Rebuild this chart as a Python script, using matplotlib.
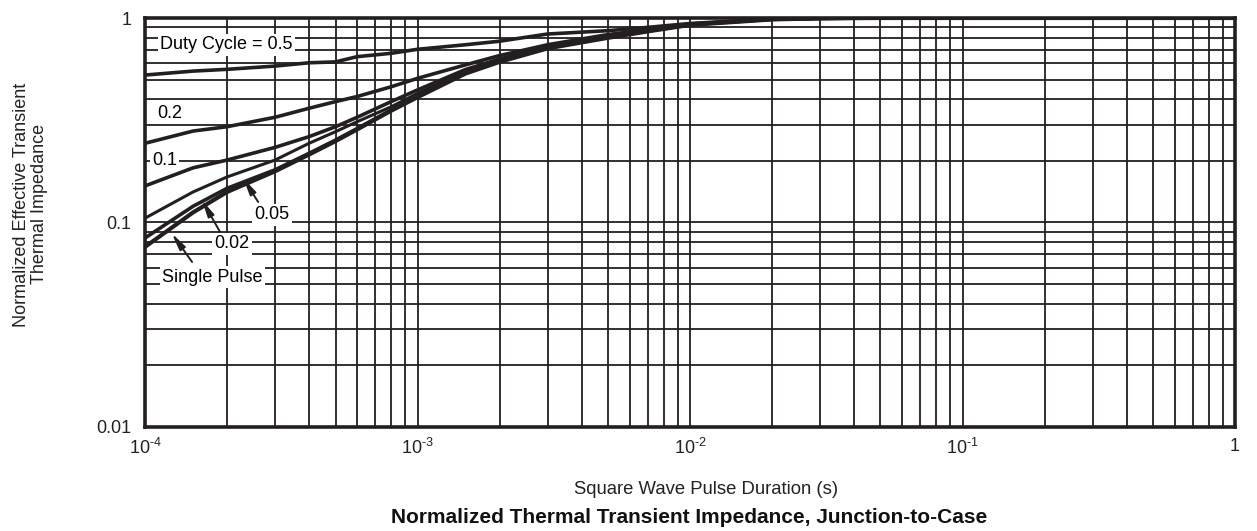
import numpy as np
import matplotlib.pyplot as plt
from matplotlib.ticker import FixedLocator, LogLocator, NullFormatter

plt.rcParams['font.family'] = ['Liberation Sans', 'DejaVu Sans']
plt.rcParams['mathtext.fontset'] = 'custom'
plt.rcParams['mathtext.rm'] = 'Liberation Sans'
plt.rcParams['mathtext.it'] = 'Liberation Sans'

# Pulse duration (s)
t = [1e-4, 1.5e-4, 2e-4, 3e-4, 4e-4, 5e-4, 6e-4, 8e-4, 1e-3, 1.5e-3,
     2e-3, 3e-3, 5e-3, 7e-3, 1e-2, 2e-2, 3e-2, 5e-2, 1e-1, 1.0]

# Normalized Zth for each duty cycle
z_05 = [0.526, 0.55, 0.561, 0.582, 0.604, 0.61, 0.647, 0.672, 0.703, 0.74,
        0.77, 0.835, 0.867, 0.90, 0.94, 0.99, 0.997, 1.0, 1.0, 1.0]
z_02 = [0.244, 0.28, 0.294, 0.327, 0.362, 0.39, 0.413, 0.461, 0.507, 0.59,
        0.655, 0.74, 0.83, 0.876, 0.935, 0.988, 0.996, 1.0, 1.0, 1.0]
z_01 = [0.151, 0.185, 0.202, 0.233, 0.263, 0.294, 0.327, 0.39, 0.445, 0.56,
        0.63, 0.73, 0.82, 0.872, 0.933, 0.987, 0.996, 1.0, 1.0, 1.0]
z_005 = [0.105, 0.141, 0.167, 0.202, 0.244, 0.278, 0.311, 0.368, 0.428, 0.55,
         0.62, 0.72, 0.812, 0.868, 0.93, 0.986, 0.996, 1.0, 1.0, 1.0]
z_002 = [0.084, 0.12, 0.147, 0.181, 0.218, 0.253, 0.288, 0.355, 0.412, 0.54,
         0.615, 0.715, 0.806, 0.864, 0.928, 0.985, 0.996, 1.0, 1.0, 1.0]
z_single = [0.076, 0.112, 0.141, 0.178, 0.215, 0.25, 0.285, 0.352, 0.41, 0.535,
            0.61, 0.71, 0.80, 0.86, 0.925, 0.984, 0.996, 1.0, 1.0, 1.0]

x_ticks = [1e-4, 1e-3, 1e-2, 1e-1, 1]
x_labels = [r'$\mathregular{10^{\text{-}4}}$', r'$\mathregular{10^{\text{-}3}}$',
            r'$\mathregular{10^{\text{-}2}}$', r'$\mathregular{10^{\text{-}1}}$', '1']
y_ticks = [0.01, 0.1, 1]
y_labels = ['0.01', '0.1', '1']

ink = '#231f20'

fig = plt.figure(figsize=(12.57, 5.31), dpi=100)
ax = fig.add_axes([0.1154, 0.1959, 0.8671, 0.7702])

for z, w in [(z_05, 2.6), (z_02, 2.6), (z_01, 2.6), (z_005, 2.2),
             (z_002, 2.6), (z_single, 3.0)]:
    ax.plot(t, z, color=ink, lw=w, solid_capstyle='butt', zorder=3)

ax.set_xscale('log')
ax.set_yscale('log')
ax.set_xlim(1e-4, 1)
ax.set_ylim(0.01, 1)

ax.xaxis.set_major_locator(FixedLocator(x_ticks))
ax.set_xticklabels(x_labels)
ax.yaxis.set_major_locator(FixedLocator(y_ticks))
ax.set_yticklabels(y_labels)
ax.xaxis.set_minor_locator(LogLocator(base=10, subs=np.arange(2, 10)))
ax.yaxis.set_minor_locator(LogLocator(base=10, subs=np.arange(2, 10)))
ax.xaxis.set_minor_formatter(NullFormatter())
ax.yaxis.set_minor_formatter(NullFormatter())
ax.tick_params(which='both', length=0, labelsize=13, colors='#222222')
ax.tick_params(axis='x', pad=8)
ax.tick_params(axis='y', pad=10)

ax.grid(which='both', color=ink, lw=1.3, zorder=1)
ax.set_axisbelow(True)
for s in ax.spines.values():
    s.set_linewidth(2.6)
    s.set_color(ink)

box = dict(facecolor='white', edgecolor='none', pad=1.5)
ax.text(1.135e-4, 0.738, 'Duty Cycle = 0.5', fontsize=13, va='center', ha='left', bbox=box, zorder=4)
ax.text(1.106e-4, 0.343, '0.2', fontsize=13, va='center', ha='left', bbox=box, zorder=4)
ax.text(1.06e-4, 0.202, '0.1', fontsize=13, va='center', ha='left', bbox=box, zorder=4)
ax.text(2.92e-4, 0.109, '0.05', fontsize=13, va='center', ha='center', bbox=box, zorder=4)
ax.text(2.085e-4, 0.0786, '0.02', fontsize=13, va='center', ha='center', bbox=box, zorder=4)
ax.text(1.763e-4, 0.0541, 'Single Pulse', fontsize=13, va='center', ha='center', bbox=box, zorder=4)

arrow = dict(arrowstyle='-|>,head_length=1.0,head_width=0.2', color=ink, lw=1.4,
             shrinkA=0, shrinkB=0)
ax.annotate('', xy=(2.29e-4, 0.165), xytext=(2.6e-4, 0.126), arrowprops=arrow, zorder=5)
ax.annotate('', xy=(1.615e-4, 0.129), xytext=(1.885e-4, 0.0899), arrowprops=arrow, zorder=5)
ax.annotate('', xy=(1.253e-4, 0.0885), xytext=(1.488e-4, 0.0641), arrowprops=arrow, zorder=5)

fig.text(0.562, 0.079, 'Square Wave Pulse Duration (s)', fontsize=13.3, ha='center', va='center', color='#222222')
fig.text(0.548, 0.0245, 'Normalized Thermal Transient Impedance, Junction-to-Case', fontsize=15,
         fontweight='bold', ha='center', va='center', color='#111111')
fig.text(0.024, 0.615, 'Normalized Effective Transient\nThermal Impedance', fontsize=13,
         rotation=90, ha='center', va='center', color='#222222', linespacing=1.1)

fig.savefig('out.png', dpi=100)
